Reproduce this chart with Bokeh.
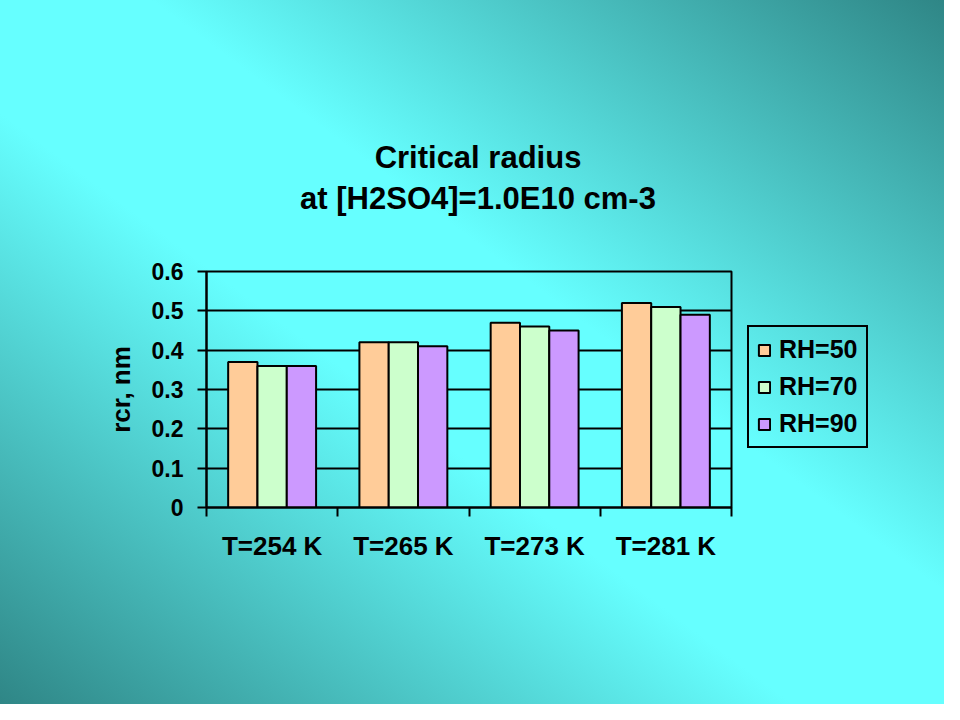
from bokeh.plotting import figure
from bokeh.layouts import column, row
from bokeh.models import (ColumnDataSource, FactorRange, Range1d, LinearAxis,
                          FixedTicker, Legend, LegendItem, Label)
from bokeh.transform import dodge
from bokeh.embed import file_html
from bokeh.resources import INLINE

# ---- data ----
categories = ["T=254 K", "T=265 K", "T=273 K", "T=281 K"]
series_names = ["RH=50", "RH=70", "RH=90"]
rh50 = [0.37, 0.42, 0.47, 0.52]
rh70 = [0.36, 0.42, 0.46, 0.51]
rh90 = [0.36, 0.41, 0.45, 0.49]
y_ticks = [0.0, 0.1, 0.2, 0.3, 0.4, 0.5, 0.6]
y_tick_labels = ["0", "0.1", "0.2", "0.3", "0.4", "0.5", "0.6"]
title_lines = ["Critical radius", "at [H2SO4]=1.0E10 cm-3"]
y_label = "rcr, nm"
colors = ["#FFCC99", "#CCFFCC", "#CC99FF"]

FONT = "Liberation Sans"
GRADIENT = "linear-gradient(to top right, #2F8686 0%, #66FFFF 42%, #66FFFF 58%, #2F8686 100%)"

source = ColumnDataSource(dict(cat=categories, rh50=rh50, rh70=rh70, rh90=rh90))
cols = ["rh50", "rh70", "rh90"]
bw = 0.2233


def clear(fig):
    fig.border_fill_color = None
    fig.background_fill_color = None
    fig.outline_line_color = None
    fig.grid.visible = False


# ---- title strip ----
TH = 230
tfig = figure(width=944, height=TH, output_backend="svg", toolbar_location=None,
              x_range=Range1d(0, 944), y_range=Range1d(TH, 0),
              x_axis_location=None, y_axis_location=None, min_border=0)
clear(tfig)
for txt, yy in zip(title_lines, [157, 198]):
    tfig.add_layout(Label(x=477.5, y=yy, text=txt, text_align="center", text_baseline="middle",
                          text_font=FONT, text_font_style="bold", text_font_size="31px",
                          text_color="black"))

# ---- main chart ----
PH = 704 - TH
p = figure(width=747, height=PH, output_backend="svg", toolbar_location=None,
           x_range=FactorRange(factors=categories, range_padding=0, factor_padding=0),
           y_range=Range1d(0, 0.6), x_axis_location=None, y_axis_location=None,
           min_border_left=206, min_border_right=16, min_border_top=271 - TH, min_border_bottom=197)
p.border_fill_color = None
p.background_fill_color = None
p.outline_line_color = "black"
p.outline_line_width = 2

yaxis = LinearAxis(ticker=FixedTicker(ticks=y_ticks, minor_ticks=[]),
                   major_label_overrides={t: l for t, l in zip(y_ticks, y_tick_labels)},
                   axis_label=y_label)
yaxis.axis_line_width = 2
yaxis.axis_line_color = "black"
yaxis.major_tick_line_width = 2
yaxis.major_tick_in = 0
yaxis.major_tick_out = 9
yaxis.minor_tick_line_color = None
yaxis.major_label_standoff = 14
yaxis.major_label_text_font = FONT
yaxis.major_label_text_font_style = "bold"
yaxis.major_label_text_font_size = "23px"
yaxis.major_label_text_color = "black"
yaxis.axis_label_text_font = FONT
yaxis.axis_label_text_font_style = "bold"
yaxis.axis_label_text_font_size = "26px"
yaxis.axis_label_text_color = "black"
yaxis.axis_label_standoff = 13
p.add_layout(yaxis, "left")

# x axis: labels at category centres, tick marks at category boundaries
n = len(categories)
centres = [i + 0.5 for i in range(n)]
bounds = [float(i) for i in range(n + 1)]
xaxis = LinearAxis(ticker=FixedTicker(ticks=centres, minor_ticks=bounds),
                   major_label_overrides={c: lab for c, lab in zip(centres, categories)})
xaxis.axis_line_width = 2
xaxis.axis_line_color = "black"
xaxis.major_tick_line_color = None
xaxis.major_tick_in = 0
xaxis.major_tick_out = 0
xaxis.minor_tick_line_color = "black"
xaxis.minor_tick_line_width = 2
xaxis.minor_tick_in = 0
xaxis.minor_tick_out = 9
xaxis.major_label_standoff = 14
xaxis.major_label_text_font = FONT
xaxis.major_label_text_font_style = "bold"
xaxis.major_label_text_font_size = "26px"
xaxis.major_label_text_color = "black"
p.add_layout(xaxis, "below")

p.ygrid.ticker = FixedTicker(ticks=y_ticks)
p.ygrid.grid_line_color = "black"
p.ygrid.grid_line_width = 2
p.xgrid.grid_line_color = None

for i, col in enumerate(cols):
    p.vbar(x=dodge("cat", (i - 1) * bw, range=p.x_range), top=col, width=bw, source=source,
           fill_color=colors[i], line_color="black", line_width=2)

# ---- legend panel (its own hidden renderers supply the swatches) ----
lfig = figure(width=944 - 747, height=PH, output_backend="svg", toolbar_location=None,
              x_range=p.x_range, y_range=Range1d(0, 0.6),
              x_axis_location=None, y_axis_location=None, min_border=0)
clear(lfig)
items = []
for i, (col, name) in enumerate(zip(cols, series_names)):
    r = lfig.vbar(x=dodge("cat", (i - 1) * bw, range=p.x_range), top=col, width=bw, source=source,
                  fill_color=colors[i], line_color="black", line_width=2, visible=False)
    items.append(LegendItem(label=name, renderers=[r]))

legend = Legend(items=items, location=(0, 59), orientation="vertical", click_policy="none")
legend.border_line_color = "black"
legend.border_line_alpha = 1.0
legend.border_line_width = 2
legend.background_fill_alpha = 0
legend.inactive_fill_alpha = 0
legend.label_text_font = FONT
legend.label_text_font_style = "bold"
legend.label_text_font_size = "25px"
legend.label_text_color = "black"
legend.glyph_width = 14
legend.glyph_height = 14
legend.label_standoff = 8
legend.spacing = 8
legend.padding = 8
legend.margin = 0
lfig.add_layout(legend, "center")

layout = column(tfig, row(p, lfig, spacing=0), spacing=0, styles={"background-image": GRADIENT})

open("out.html", "w").write(file_html(layout, INLINE))
